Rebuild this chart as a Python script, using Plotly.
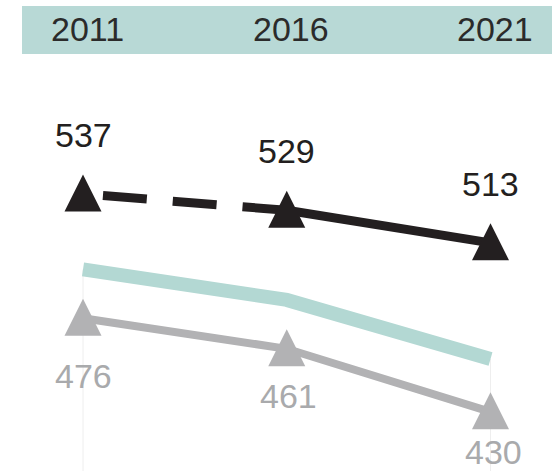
import plotly.graph_objects as go

# Survey years and scores
years = [2011, 2016, 2021]
year_labels = ["2011", "2016", "2021"]
top_scores = [537, 529, 513]
avg_scores = [500, 485, 456]
low_scores = [476, 461, 430]

BLACK = "#231f20"
GRAY = "#b2b2b4"
GRAY_TEXT = "#a9aaac"
TEAL = "#b3d8d3"
BAND = "#b8d9d6"
FONT = "Liberation Sans, Arial, sans-serif"

# Upward triangle, base as wide as it is tall, centred a little below its middle
TRI = dict(symbol="arrow-down", angle=180, size=37, standoff=19.6,
           line=dict(width=0))

fig = go.Figure()

# Average line (thick teal band, no markers)
fig.add_trace(go.Scatter(
    x=years, y=avg_scores, mode="lines",
    line=dict(color=TEAL, width=14),
    hoverinfo="skip", showlegend=False,
))

# Lower series: grey line with triangles
fig.add_trace(go.Scatter(
    x=years, y=low_scores, mode="lines",
    line=dict(color=GRAY, width=8),
    hoverinfo="skip", showlegend=False,
))
fig.add_trace(go.Scatter(
    x=years, y=low_scores, mode="markers",
    marker=dict(color=GRAY, **TRI),
    hoverinfo="skip", showlegend=False,
))

# Upper series: dashed first interval, solid second interval
fig.add_trace(go.Scatter(
    x=years[:2], y=top_scores[:2], mode="lines",
    line=dict(color=BLACK, width=9, dash="0px,20px,44px,6px"),
    hoverinfo="skip", showlegend=False,
))
fig.add_trace(go.Scatter(
    x=years[1:], y=top_scores[1:], mode="lines",
    line=dict(color=BLACK, width=9),
    hoverinfo="skip", showlegend=False,
))
fig.add_trace(go.Scatter(
    x=years, y=top_scores, mode="markers",
    marker=dict(color=BLACK, **TRI),
    hoverinfo="skip", showlegend=False,
))

annotations = []
# Value labels above the upper series
for x, v in zip(years, top_scores):
    annotations.append(dict(
        x=x, y=v, xref="x", yref="y", text=str(v), showarrow=False,
        yanchor="middle", xanchor="center", yshift=59,
        font=dict(family=FONT, size=34, color=BLACK),
    ))
# Value labels below the lower series
low_dy = [-58, -47, -40]
low_dx = [0, 2, 3]
for x, v, dy, dx in zip(years, low_scores, low_dy, low_dx):
    annotations.append(dict(
        x=x, y=v, xref="x", yref="y", text=str(v), showarrow=False,
        yanchor="middle", xanchor="center", yshift=dy, xshift=dx,
        font=dict(family=FONT, size=34, color=GRAY_TEXT),
    ))
# Year headings in the band
for x, t in zip(years, year_labels):
    annotations.append(dict(
        x=x, y=1 - 29 / 471, xref="x", yref="paper", text=t, showarrow=False,
        yanchor="middle", xanchor="center", xshift=4,
        font=dict(family=FONT, size=34, color="#2b2b2b"),
    ))

shapes = [
    # Header band
    dict(type="rect", xref="paper", yref="paper",
         x0=22 / 552, x1=1.0, y0=1 - 54 / 471, y1=1 - 6 / 471,
         fillcolor=BAND, line=dict(width=0), layer="below"),
]
# Faint guide lines under the first and last years
for x, v in [(years[0], avg_scores[0]), (years[-1], avg_scores[-1])]:
    shapes.append(dict(type="line", xref="x", yref="y",
                       x0=x, x1=x, y0=v, y1=401.0,
                       line=dict(color="#eeeeee", width=1), layer="below"))

fig.update_layout(
    width=552, height=471,
    margin=dict(l=0, r=0, t=0, b=0),
    paper_bgcolor="white", plot_bgcolor="white",
    xaxis=dict(range=[2008.963, 2022.509], visible=False, fixedrange=True),
    yaxis=dict(range=[401.0, 632.24], visible=False, fixedrange=True),
    annotations=annotations,
    shapes=shapes,
    showlegend=False,
)

fig.write_html("out.html")
